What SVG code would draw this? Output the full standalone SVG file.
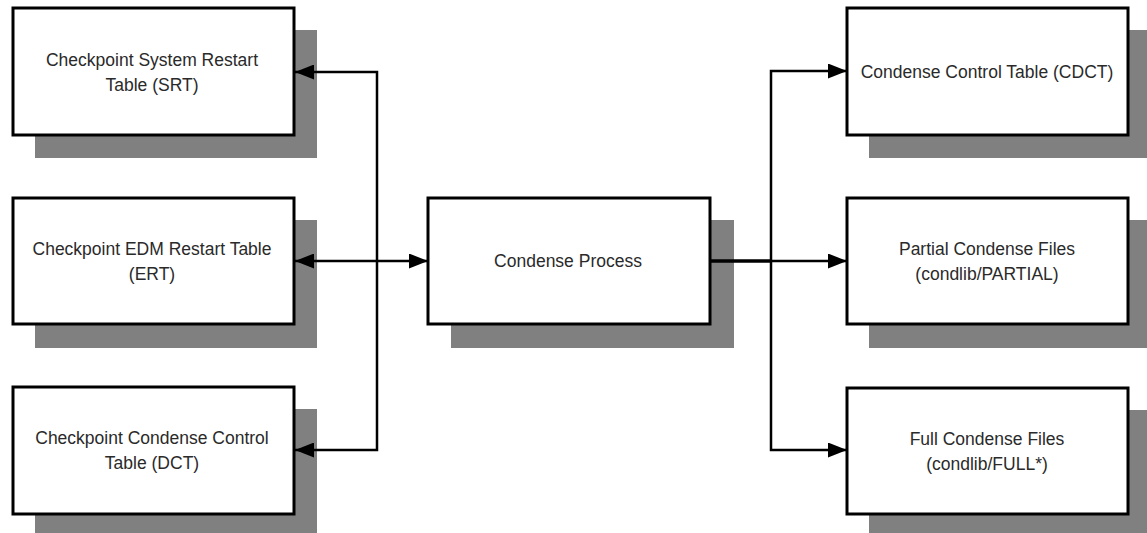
<svg xmlns="http://www.w3.org/2000/svg" width="1147" height="533" viewBox="0 0 1147 533">
  <defs>
    <style>
      .shadow { fill: #808080; }
      .box { fill: #ffffff; stroke: #000000; stroke-width: 3; }
      .lbl { font-family: "Liberation Sans", Arial, sans-serif; font-size: 17.5px; fill: #2a2a2a; text-anchor: middle; }
      .conn { fill: none; stroke: #000000; stroke-width: 2.5; }
    </style>
    <marker id="arrow" viewBox="0 0 19 15" refX="19" refY="7.5" markerWidth="19" markerHeight="15" markerUnits="userSpaceOnUse" orient="auto-start-reverse">
      <path d="M0,0 L19,7.5 L0,15 z" fill="#000000"/>
    </marker>
  </defs>
  <rect width="1147" height="533" fill="#ffffff"/>

  <g id="srt">
    <rect class="shadow" x="35" y="30" width="282" height="128"/>
    <rect class="box" x="13" y="8" width="281" height="127"/>
    <text class="lbl" x="152" y="66">Checkpoint System Restart</text>
    <text class="lbl" x="152" y="91">Table (SRT)</text>
  </g>

  <g id="ert">
    <rect class="shadow" x="35" y="220" width="282" height="128"/>
    <rect class="box" x="13" y="198" width="281" height="126"/>
    <text class="lbl" x="152" y="255">Checkpoint EDM Restart Table</text>
    <text class="lbl" x="152" y="280">(ERT)</text>
  </g>

  <g id="dct">
    <rect class="shadow" x="35" y="409" width="282" height="130"/>
    <rect class="box" x="13" y="387" width="281" height="127"/>
    <text class="lbl" x="152" y="444">Checkpoint Condense Control</text>
    <text class="lbl" x="152" y="469">Table (DCT)</text>
  </g>

  <g id="condense-process">
    <rect class="shadow" x="451" y="220" width="283" height="128"/>
    <rect class="box" x="428" y="198" width="282" height="126"/>
    <text class="lbl" x="568" y="267">Condense Process</text>
  </g>

  <g id="cdct">
    <rect class="shadow" x="869" y="30" width="290" height="128"/>
    <rect class="box" x="847" y="8" width="281" height="127"/>
    <text class="lbl" x="987" y="77.5">Condense Control Table (CDCT)</text>
  </g>

  <g id="partial">
    <rect class="shadow" x="869" y="220" width="290" height="128"/>
    <rect class="box" x="847" y="198" width="281" height="126"/>
    <text class="lbl" x="987" y="255">Partial Condense Files</text>
    <text class="lbl" x="987" y="280">(condlib/PARTIAL)</text>
  </g>

  <g id="full">
    <rect class="shadow" x="869" y="410" width="290" height="130"/>
    <rect class="box" x="847" y="388" width="281" height="126"/>
    <text class="lbl" x="987" y="445">Full Condense Files</text>
    <text class="lbl" x="987" y="470">(condlib/FULL*)</text>
  </g>

  <g id="connectors">
    <path class="conn" d="M377,261 L377,72 L295,72" marker-end="url(#arrow)"/>
    <path class="conn" d="M377,261 L377,450 L295,450" marker-end="url(#arrow)"/>
    <path class="conn" d="M295,261 L428,261" marker-start="url(#arrow)" marker-end="url(#arrow)"/>
    <path class="conn" d="M710,261 L771,261" style="stroke-width:3.5"/>
    <path class="conn" d="M771,261 L771,71 L847,71" marker-end="url(#arrow)"/>
    <path class="conn" d="M771,261 L771,450 L847,450" marker-end="url(#arrow)"/>
    <path class="conn" d="M771,261 L847,261" marker-end="url(#arrow)"/>
  </g>
</svg>
